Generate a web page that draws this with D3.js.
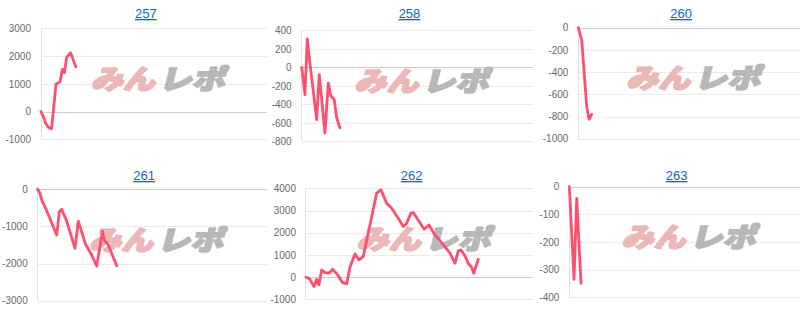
<!DOCTYPE html>
<html>
<head>
<meta charset="utf-8">
<script src="https://cdn.jsdelivr.net/npm/d3@7"></script>
<style>
  html, body { margin: 0; padding: 0; background: #fff; }
  svg { display: block; }
</style>
</head>
<body>
<div id="chart"></div>
<script>
// machine numbers (panel titles)
var titles = ["257", "258", "260", "261", "262", "263"];

// x = sample position along the day, y = running balance
var x257 = [0, 1.2, 2.4, 3.7, 5.3, 7.5, 9.5, 10.7, 11.7, 12.8, 14.8, 17.4];
var y257 = [0, -190, -430, -570, -620, 990, 1070, 1520, 1400, 1950, 2120, 1610];

var x258 = [0, 0.6, 1.65, 2.8, 3.8, 4.4, 7.5, 8.8, 11.65, 13.3, 14.5, 16.3, 17.5, 19.15];
var y258 = [0, -100, -295, 307, 105, 0, -565, -80, -710, -170, -305, -350, -545, -655];

var x260 = [0, 0.6, 1.7, 4.2, 5.35, 6.7];
var y260 = [0, -40, -111, -714, -825, -780];

var x261 = [0, 1.15, 2.3, 3.65, 9.5, 10.8, 12, 14.5, 18.65, 20.3, 23.9, 27, 29.5, 32.4, 33.5, 35.15, 39.5];
var y261 = [0, -108, -334, -470, -1232, -604, -540, -855, -1590, -855, -1475, -1770, -2067, -1130, -1393, -1482, -2060];

var x262 = [0, 2, 4, 5.35, 6.5, 7.85, 9.5, 11.65, 13.35, 15.85, 18.35, 20.35, 22, 24.5, 26.5, 28.65,
            35.35, 37.5, 40.35, 42.85, 46.15, 48.65, 50.35, 52.5, 53.65, 55.85, 59.15, 61.5, 64.5,
            69.5, 72, 74.5, 76.15, 77.5, 79.5, 81.15, 82.85, 83.85, 86.15];
var y262 = [0, -95, -428, -95, -350, 325, 200, 175, 355, 100, -250, -305, 445, 1045, 775, 925,
            3780, 3930, 3330, 3100, 2650, 2275, 2430, 2880, 2905, 2610, 2160, 2350, 1900,
            1375, 1075, 625, 1180, 1225, 955, 625, 445, 175, 805];

var x263 = [0, 2.35, 3.7, 5.85];
var y263 = [0, -335, -42, -350];

// y axis tick labels per panel
var ticks257 = [-1000, 0, 1000, 2000, 3000];
var ticks258 = [-800, -600, -400, -200, 0, 200, 400];
var ticks260 = [-1000, -800, -600, -400, -200, 0];
var ticks261 = [-3000, -2000, -1000, 0];
var ticks262 = [-1000, 0, 1000, 2000, 3000, 4000];
var ticks263 = [-400, -300, -200, -100, 0];

var xs = [x257, x258, x260, x261, x262, x263];
var ys = [y257, y258, y260, y261, y262, y263];
var tickSets = [ticks257, ticks258, ticks260, ticks261, ticks262, ticks263];

// layout of the 3x2 grid
var width = 800, height = 313;
var panelW = width / 3;
var xMax = 115;
var layout = [
    {col: 0, left: 41,   top: 28.3,  bottom: 139.3, titleY: 18},
    {col: 1, left: 35,   top: 30.3,  bottom: 141.3, titleY: 18},
    {col: 2, left: 45,   top: 27.7,  bottom: 138.7, titleY: 18},
    {col: 0, left: 37.7, top: 189.3, bottom: 300.7, titleY: 180},
    {col: 1, left: 39.3, top: 188.3, bottom: 299.3, titleY: 180},
    {col: 2, left: 36,   top: 186.7, bottom: 297.3, titleY: 180}
];

var svg = d3.select("#chart").append("svg")
    .attr("width", width)
    .attr("height", height);

layout.forEach(function(p, i) {
    var ticks = tickSets[i];
    var x0 = p.col * panelW;
    var plotLeft = x0 + p.left;
    var plotRight = x0 + panelW;
    var plotMid = (plotLeft + plotRight) / 2;

    var x = d3.scaleLinear().domain([0, xMax]).range([plotLeft, plotLeft + 230]);
    var y = d3.scaleLinear().domain(d3.extent(ticks)).range([p.bottom, p.top]);

    var g = svg.append("g").attr("class", "panel");

    // gridlines
    var grid = g.append("g")
        .attr("transform", "translate(" + plotLeft + ",0)")
        .call(d3.axisLeft(y).tickValues(ticks).tickSize(-(plotRight - plotLeft)).tickFormat(""));
    grid.select(".domain").remove();
    grid.selectAll(".tick line")
        .attr("stroke", function(d) { return d === 0 ? "#cccccc" : "#ebebeb"; })
        .attr("shape-rendering", "crispEdges");

    // left baseline
    g.append("line")
        .attr("x1", plotLeft).attr("x2", plotLeft)
        .attr("y1", p.top).attr("y2", p.bottom)
        .attr("stroke", "#e0e0e0")
        .attr("shape-rendering", "crispEdges");

    // tick labels
    var axis = g.append("g")
        .attr("transform", "translate(" + plotLeft + ",0)")
        .call(d3.axisLeft(y).tickValues(ticks).tickSize(0).tickPadding(10)
            .tickFormat(function(d) { return String(d); }));
    axis.select(".domain").remove();
    axis.selectAll("text")
        .attr("fill", "#6a6a6a")
        .style("font-family", "'Liberation Sans', Arial, sans-serif")
        .style("font-size", "10px");

    // watermark
    var wm = g.append("g")
        .attr("transform", "translate(" + (plotMid + 6) + "," + ((p.top + p.bottom) / 2 - 7) + ") skewX(-14)")
        .style("font-family", "'Noto Sans CJK JP', sans-serif")
        .style("font-weight", "900")
        .style("font-size", "27px");
    wm.append("text")
        .attr("x", -66).attr("y", 0)
        .attr("dominant-baseline", "central")
        .attr("textLength", 64).attr("lengthAdjust", "spacingAndGlyphs")
        .attr("fill", "#ecb7b7")
        .attr("stroke", "#ecb7b7")
        .attr("stroke-width", 1.8)
        .attr("stroke-linejoin", "round")
        .text("みん");
    wm.append("text")
        .attr("x", 2).attr("y", 0)
        .attr("dominant-baseline", "central")
        .attr("textLength", 66).attr("lengthAdjust", "spacingAndGlyphs")
        .attr("fill", "#b8b8b8")
        .attr("stroke", "#b8b8b8")
        .attr("stroke-width", 1.8)
        .attr("stroke-linejoin", "round")
        .text("レポ");

    // series line
    var line = d3.line()
        .x(function(d) { return x(d[0]); })
        .y(function(d) { return y(d[1]); });
    g.append("path")
        .datum(d3.zip(xs[i], ys[i]))
        .attr("d", line)
        .attr("fill", "none")
        .attr("stroke", "#ff4f6e")
        .attr("stroke-width", 2.8)
        .attr("stroke-linejoin", "round")
        .attr("stroke-linecap", "round");

    // title link
    g.append("text")
        .attr("x", plotMid - 8)
        .attr("y", p.titleY)
        .attr("text-anchor", "middle")
        .attr("fill", "#0b66cc")
        .style("font-family", "'Liberation Sans', Arial, sans-serif")
        .style("font-size", "13px")
        .style("text-decoration", "underline")
        .text(titles[i]);
});
</script>
</body>
</html>
